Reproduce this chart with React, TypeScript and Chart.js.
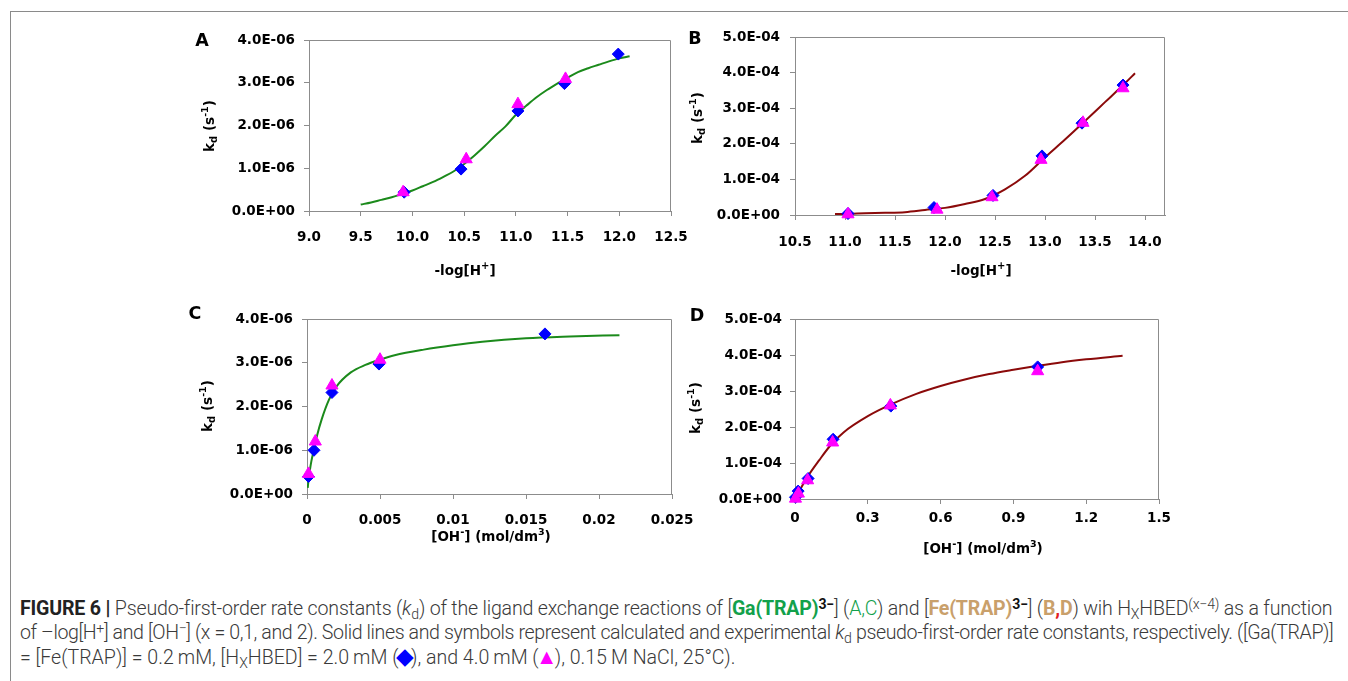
import React, { useEffect, useLayoutEffect, useRef } from 'react';
import { Chart, registerables } from 'chart.js';

Chart.register(...registerables);

// ================= DATA =================
// Panel A : [Ga(TRAP)]3-, kd vs -log[H+]
const aCurveX = [9.5, 9.6, 9.7, 9.8, 9.9, 10.0, 10.1, 10.2, 10.3, 10.4, 10.5, 10.6, 10.7, 10.8, 10.9, 11.0, 11.1, 11.2, 11.3, 11.4, 11.5, 11.6, 11.7, 11.8, 11.9, 12.0, 12.1];
const aCurveY = [0.15e-6, 0.2e-6, 0.26e-6, 0.32e-6, 0.4e-6, 0.48e-6, 0.58e-6, 0.68e-6, 0.8e-6, 0.93e-6, 1.1e-6, 1.3e-6, 1.52e-6, 1.76e-6, 1.98e-6, 2.25e-6, 2.46e-6, 2.66e-6, 2.83e-6, 2.98e-6, 3.12e-6, 3.25e-6, 3.34e-6, 3.42e-6, 3.5e-6, 3.57e-6, 3.62e-6];
const aDiamondX = [9.92, 10.47, 11.02, 11.47, 11.99];
const aDiamondY = [0.44e-6, 0.98e-6, 2.34e-6, 2.98e-6, 3.67e-6];
const aTriangleX = [9.91, 10.52, 11.02, 11.48];
const aTriangleY = [0.44e-6, 1.21e-6, 2.5e-6, 3.09e-6];
const aXTicks = [9.0, 9.5, 10.0, 10.5, 11.0, 11.5, 12.0, 12.5];
const aXLabels = ['9.0', '9.5', '10.0', '10.5', '11.0', '11.5', '12.0', '12.5'];
const aYTicks = [0, 1e-6, 2e-6, 3e-6, 4e-6];
const aYLabels = ['0.0E+00', '1.0E-06', '2.0E-06', '3.0E-06', '4.0E-06'];

// Panel B : [Fe(TRAP)]3-, kd vs -log[H+]
const bCurveX = [10.9, 11.0, 11.2, 11.4, 11.6, 11.8, 12.0, 12.2, 12.4, 12.6, 12.8, 13.0, 13.2, 13.4, 13.6, 13.8, 13.9];
const bCurveY = [0.03e-4, 0.03e-4, 0.05e-4, 0.06e-4, 0.08e-4, 0.14e-4, 0.2e-4, 0.31e-4, 0.45e-4, 0.72e-4, 1.1e-4, 1.62e-4, 2.12e-4, 2.64e-4, 3.17e-4, 3.7e-4, 3.98e-4];
const bDiamondX = [11.03, 11.89, 12.48, 12.97, 13.37, 13.78];
const bDiamondY = [0.04e-4, 0.21e-4, 0.55e-4, 1.66e-4, 2.58e-4, 3.65e-4];
const bTriangleX = [11.03, 11.92, 12.47, 12.96, 13.38, 13.78];
const bTriangleY = [0.02e-4, 0.15e-4, 0.5e-4, 1.55e-4, 2.59e-4, 3.56e-4];
const bXTicks = [10.5, 11.0, 11.5, 12.0, 12.5, 13.0, 13.5, 14.0];
const bXLabels = ['10.5', '11.0', '11.5', '12.0', '12.5', '13.0', '13.5', '14.0'];
const bYTicks = [0, 1e-4, 2e-4, 3e-4, 4e-4, 5e-4];
const bYLabels = ['0.0E+00', '1.0E-04', '2.0E-04', '3.0E-04', '4.0E-04', '5.0E-04'];

// Panel C : [Ga(TRAP)]3-, kd vs [OH-]
const cCurveX = [0.00005, 0.0001, 0.0002, 0.0003, 0.0005, 0.0007, 0.001, 0.0015, 0.002, 0.003, 0.004, 0.005, 0.006, 0.008, 0.01, 0.012, 0.015, 0.018, 0.0214];
const cCurveY = [0.14e-6, 0.3e-6, 0.55e-6, 0.75e-6, 1.05e-6, 1.35e-6, 1.7e-6, 2.15e-6, 2.45e-6, 2.78e-6, 2.95e-6, 3.07e-6, 3.17e-6, 3.3e-6, 3.4e-6, 3.48e-6, 3.56e-6, 3.6e-6, 3.63e-6];
const cDiamondX = [0.0001, 0.00048, 0.00171, 0.00493, 0.0163];
const cDiamondY = [0.4e-6, 1.0e-6, 2.32e-6, 2.97e-6, 3.66e-6];
const cTriangleX = [0.0001, 0.00057, 0.00171, 0.005];
const cTriangleY = [0.46e-6, 1.2e-6, 2.48e-6, 3.07e-6];
const cXTicks = [0, 0.005, 0.01, 0.015, 0.02, 0.025];
const cXLabels = ['0', '0.005', '0.01', '0.015', '0.02', '0.025'];
const cYTicks = [0, 1e-6, 2e-6, 3e-6, 4e-6];
const cYLabels = ['0.0E+00', '1.0E-06', '2.0E-06', '3.0E-06', '4.0E-06'];

// Panel D : [Fe(TRAP)]3-, kd vs [OH-]
const dCurveX = [0, 0.01, 0.02, 0.05, 0.1, 0.15, 0.2, 0.3, 0.4, 0.5, 0.6, 0.7, 0.8, 0.9, 1.0, 1.1, 1.2, 1.35];
const dCurveY = [0.02e-4, 0.13e-4, 0.25e-4, 0.6e-4, 1.08e-4, 1.52e-4, 1.85e-4, 2.3e-4, 2.64e-4, 2.92e-4, 3.14e-4, 3.32e-4, 3.47e-4, 3.59e-4, 3.7e-4, 3.8e-4, 3.88e-4, 3.98e-4];
const dDiamondX = [0.002, 0.013, 0.054, 0.157, 0.395, 1.0];
const dDiamondY = [0.05e-4, 0.22e-4, 0.57e-4, 1.66e-4, 2.58e-4, 3.67e-4];
const dTriangleX = [0.002, 0.014, 0.052, 0.155, 0.393, 1.0];
const dTriangleY = [0.01e-4, 0.15e-4, 0.52e-4, 1.57e-4, 2.6e-4, 3.55e-4];
const dXTicks = [0, 0.3, 0.6, 0.9, 1.2, 1.5];
const dXLabels = ['0', '0.3', '0.6', '0.9', '1.2', '1.5'];
const dYTicks = [0, 1e-4, 2e-4, 3e-4, 4e-4, 5e-4];
const dYLabels = ['0.0E+00', '1.0E-04', '2.0E-04', '3.0E-04', '4.0E-04', '5.0E-04'];

// ================= STYLE / LAYOUT =================
type Pt = { x: number; y: number };
type Part = { t: string; s?: number; dy?: number };
const zip = (xs: number[], ys: number[]): Pt[] => xs.map((x, i) => ({ x, y: ys[i] }));

const FONT = "'DejaVu Sans', 'Liberation Sans', Arial, sans-serif";
const AXIS_COLOR = '#8c8c8c';
const GREEN_LINE = '#1b8a1b';
const RED_LINE = '#8b0a0a';
const BLUE = '#0000ff';
const MAGENTA = '#ff00ff';
const YW = 135;
const XH = 80;
const PAD_T = 30;
const PAD_R = 48;

const Y_TITLE: Part[] = [
  { t: 'k' },
  { t: 'd', s: 10, dy: 3 },
  { t: ' (s' },
  { t: '-1', s: 9.5, dy: -6 },
  { t: ')' },
];
const X_TITLE_PH: Part[] = [{ t: '-log[H' }, { t: '+', s: 10, dy: -6 }, { t: ']' }];
const X_TITLE_OH: Part[] = [
  { t: '[OH' },
  { t: '-', s: 10, dy: -6 },
  { t: '] (mol/dm' },
  { t: '3', s: 9.5, dy: -6 },
  { t: ')' },
];

interface PanelCfg {
  id: string;
  area: { l: number; t: number; r: number; b: number };
  xMin: number; xMax: number; xTicks: number[]; xLabels: string[];
  yMax: number; yTicks: number[]; yLabels: string[];
  curve: Pt[]; diamonds: Pt[]; triangles: Pt[]; lineColor: string;
  xPad: number; yPad: number;
  letter: string; letterPos: [number, number];
  yTitlePos: [number, number];
  xTitle: Part[]; xTitlePos: [number, number];
}

const PANELS: PanelCfg[] = [
  {
    id: 'A', area: { l: 309, t: 40, r: 671, b: 211 },
    xMin: 9.0, xMax: 12.5, xTicks: aXTicks, xLabels: aXLabels,
    yMax: 4e-6, yTicks: aYTicks, yLabels: aYLabels,
    curve: zip(aCurveX, aCurveY), diamonds: zip(aDiamondX, aDiamondY), triangles: zip(aTriangleX, aTriangleY),
    lineColor: GREEN_LINE, xPad: 13, yPad: 9,
    letter: 'A', letterPos: [202, 40], yTitlePos: [209, 126], xTitle: X_TITLE_PH, xTitlePos: [465, 270],
  },
  {
    id: 'B', area: { l: 795, t: 37, r: 1165, b: 215 },
    xMin: 10.5, xMax: 14.2, xTicks: bXTicks, xLabels: bXLabels,
    yMax: 5e-4, yTicks: bYTicks, yLabels: bYLabels,
    curve: zip(bCurveX, bCurveY), diamonds: zip(bDiamondX, bDiamondY), triangles: zip(bTriangleX, bTriangleY),
    lineColor: RED_LINE, xPad: 14, yPad: 10,
    letter: 'B', letterPos: [695, 38], yTitlePos: [697, 118], xTitle: X_TITLE_PH, xTitlePos: [981, 270],
  },
  {
    id: 'C', area: { l: 307, t: 319, r: 672, b: 494 },
    xMin: 0, xMax: 0.025, xTicks: cXTicks, xLabels: cXLabels,
    yMax: 4e-6, yTicks: cYTicks, yLabels: cYLabels,
    curve: zip(cCurveX, cCurveY), diamonds: zip(cDiamondX, cDiamondY), triangles: zip(cTriangleX, cTriangleY),
    lineColor: GREEN_LINE, xPad: 13, yPad: 9,
    letter: 'C', letterPos: [195, 313], yTitlePos: [207, 406], xTitle: X_TITLE_OH, xTitlePos: [491, 536],
  },
  {
    id: 'D', area: { l: 795, t: 319, r: 1159, b: 499 },
    xMin: 0, xMax: 1.5, xTicks: dXTicks, xLabels: dXLabels,
    yMax: 5e-4, yTicks: dYTicks, yLabels: dYLabels,
    curve: zip(dCurveX, dCurveY), diamonds: zip(dDiamondX, dDiamondY), triangles: zip(dTriangleX, dTriangleY),
    lineColor: RED_LINE, xPad: 6, yPad: 8,
    letter: 'D', letterPos: [697, 315], yTitlePos: [695, 408], xTitle: X_TITLE_OH, xTitlePos: [983, 548],
  },
];

function drawRich(ctx: CanvasRenderingContext2D, parts: Part[], cx: number, cy: number, rot: number) {
  ctx.save();
  ctx.translate(cx, cy);
  if (rot) ctx.rotate(rot);
  ctx.textAlign = 'left';
  ctx.textBaseline = 'alphabetic';
  ctx.fillStyle = '#000';
  const sizes = parts.map((p) => p.s ?? 13.5);
  const widths = parts.map((p, i) => {
    ctx.font = `bold ${sizes[i]}px ${FONT}`;
    return ctx.measureText(p.t).width;
  });
  const total = widths.reduce((a, b) => a + b, 0);
  const base = 0.365 * sizes[0];
  let x = -total / 2;
  parts.forEach((p, i) => {
    ctx.font = `bold ${sizes[i]}px ${FONT}`;
    ctx.fillText(p.t, x, base + (p.dy ?? 0));
    x += widths[i];
  });
  ctx.restore();
}

function Panel({ cfg }: { cfg: PanelCfg }) {
  const ref = useRef<HTMLCanvasElement>(null);
  const left = cfg.area.l - YW;
  const top = cfg.area.t - PAD_T;
  const width = cfg.area.r - cfg.area.l + YW + PAD_R;
  const height = cfg.area.b - cfg.area.t + PAD_T + XH;

  useEffect(() => {
    if (!ref.current) return;
    const tickFont = { family: FONT, size: 13.5, weight: 'bold' as const };
    const deco = {
      id: 'deco' + cfg.id,
      beforeDatasetsDraw(chart: any) {
        const { ctx, chartArea: ca } = chart;
        ctx.save();
        ctx.strokeStyle = AXIS_COLOR;
        ctx.lineWidth = 1;
        const ty = Math.round(ca.top) + 0.5;
        const rx = Math.round(ca.right) - 0.5;
        ctx.beginPath();
        ctx.moveTo(ca.left, ty);
        ctx.lineTo(rx, ty);
        ctx.lineTo(rx, ca.bottom);
        ctx.stroke();
        ctx.restore();
      },
      afterDraw(chart: any) {
        const ctx = chart.ctx;
        drawRich(ctx, [{ t: cfg.letter, s: 17.5 }], cfg.letterPos[0] - left, cfg.letterPos[1] - top, 0);
        drawRich(ctx, Y_TITLE, cfg.yTitlePos[0] - left, cfg.yTitlePos[1] - top, -Math.PI / 2);
        drawRich(ctx, cfg.xTitle, cfg.xTitlePos[0] - left, cfg.xTitlePos[1] - top, 0);
      },
    };
    const chart = new Chart(ref.current, {
      type: 'scatter',
      data: {
        datasets: [
          {
            label: '4.0 mM',
            data: cfg.triangles,
            pointStyle: 'triangle',
            pointRadius: 7,
            pointBackgroundColor: MAGENTA,
            pointBorderColor: MAGENTA,
            backgroundColor: MAGENTA,
            borderColor: MAGENTA,
            pointBorderWidth: 1,
            showLine: false,
            clip: false,
          } as any,
          {
            label: '2.0 mM',
            data: cfg.diamonds,
            pointStyle: 'rectRot',
            pointRadius: 6,
            pointBackgroundColor: BLUE,
            pointBorderColor: BLUE,
            backgroundColor: BLUE,
            borderColor: BLUE,
            pointBorderWidth: 1,
            showLine: false,
            clip: false,
          } as any,
          {
            label: 'calculated',
            data: cfg.curve,
            showLine: true,
            pointRadius: 0,
            borderColor: cfg.lineColor,
            backgroundColor: cfg.lineColor,
            borderWidth: 2,
            cubicInterpolationMode: 'monotone',
            fill: false,
          } as any,
        ],
      },
      options: {
        responsive: false,
        maintainAspectRatio: false,
        animation: false,
        devicePixelRatio: 1,
        events: [],
        layout: { padding: { top: PAD_T, right: PAD_R, left: 0, bottom: 0 } },
        plugins: { legend: { display: false }, tooltip: { enabled: false }, title: { display: false } },
        scales: {
          x: {
            type: 'linear',
            min: cfg.xMin,
            max: cfg.xMax,
            afterBuildTicks: (s: any) => {
              s.ticks = cfg.xTicks.map((v) => ({ value: v }));
            },
            afterFit: (s: any) => {
              s.height = XH;
            },
            ticks: {
              autoSkip: false,
              maxRotation: 0,
              minRotation: 0,
              padding: cfg.xPad,
              color: '#000',
              font: tickFont,
              callback: (v: any, i: number) => cfg.xLabels[i],
            },
            grid: { display: true, drawOnChartArea: false, drawTicks: true, tickLength: 5, color: AXIS_COLOR, lineWidth: 1 },
            border: { display: true, color: AXIS_COLOR, width: 1 },
          },
          y: {
            type: 'linear',
            min: 0,
            max: cfg.yMax,
            afterBuildTicks: (s: any) => {
              s.ticks = cfg.yTicks.map((v) => ({ value: v }));
            },
            afterFit: (s: any) => {
              s.width = YW;
            },
            ticks: {
              autoSkip: false,
              padding: cfg.yPad,
              color: '#000',
              font: tickFont,
              callback: (v: any, i: number) => cfg.yLabels[i],
            },
            grid: { display: true, drawOnChartArea: false, drawTicks: true, tickLength: 5, color: AXIS_COLOR, lineWidth: 1 },
            border: { display: true, color: AXIS_COLOR, width: 1 },
          },
        },
      } as any,
      plugins: [deco],
    });
    return () => chart.destroy();
  }, [cfg]);

  return (
    <canvas
      ref={ref}
      width={width}
      height={height}
      style={{ position: 'absolute', left, top, width, height }}
    />
  );
}

const CAP_FONT = "Roboto, 'Liberation Sans', Arial, sans-serif";
const CAP_TARGETS = [1312, 1313, 715];
const CAP_TOPS = [599, 623, 648];
const GREEN_TXT = '#12a14b';
const TAN_TXT = '#c9a06b';
const RED_TXT = '#e3201b';

const Sup = ({ children, style }: any) => (
  <span style={{ position: 'relative', top: '-0.45em', fontSize: '0.72em', ...style }}>{children}</span>
);
const Sub = ({ children, style }: any) => (
  <span style={{ position: 'relative', top: '0.3em', fontSize: '0.72em', ...style }}>{children}</span>
);
const B = ({ children, color }: any) => <span style={{ fontWeight: 700, color }}>{children}</span>;

function Caption() {
  const r1 = useRef<HTMLDivElement>(null);
  const r2 = useRef<HTMLDivElement>(null);
  const r3 = useRef<HTMLDivElement>(null);
  useLayoutEffect(() => {
    const els = [r1.current!, r2.current!, r3.current!];
    const base = 16;
    els.forEach((e) => {
      e.style.fontSize = base + 'px';
      e.style.wordSpacing = '0px';
      e.style.letterSpacing = '0px';
    });
    const w3 = els[2].getBoundingClientRect().width;
    const fs = (base * CAP_TARGETS[2]) / w3;
    els.forEach((e) => (e.style.fontSize = fs + 'px'));
    [0, 1].forEach((i) => {
      const e = els[i];
      const w = e.getBoundingClientRect().width;
      const txt = e.textContent || '';
      if (w > CAP_TARGETS[i]) {
        e.style.letterSpacing = (CAP_TARGETS[i] - w) / txt.length + 'px';
      } else {
        const n = txt.split(' ').length - 1;
        if (n > 0) e.style.wordSpacing = (CAP_TARGETS[i] - w) / n + 'px';
      }
    });
  }, []);
  const lineStyle = (i: number): React.CSSProperties => ({
    position: 'absolute',
    left: 20,
    top: CAP_TOPS[i],
    whiteSpace: 'nowrap',
    lineHeight: '20px',
    fontFamily: CAP_FONT,
    fontWeight: 300,
    color: '#3a3a3a',
    fontSize: 16,
  });
  const sym: React.CSSProperties = { lineHeight: 0, display: 'inline-block', margin: '0 -0.12em' };
  return (
    <>
      <div ref={r1} style={lineStyle(0)}>
        <B color="#222">FIGURE 6 |</B> Pseudo-first-order rate constants (<i>k</i>
        <Sub>d</Sub>) of the ligand exchange reactions of [<B color={GREEN_TXT}>Ga(TRAP)</B>
        <Sup style={{ fontWeight: 700, color: '#111' }}>3−</Sup>] (<span style={{ color: GREEN_TXT }}>A,C</span>) and [
        <B color={TAN_TXT}>Fe(TRAP)</B>
        <Sup style={{ fontWeight: 700, color: '#111' }}>3−</Sup>] (<B color={TAN_TXT}>B</B>
        <B color={RED_TXT}>,</B>
        <B color={TAN_TXT}>D</B>) wih H<Sub>X</Sub>HBED<Sup>(x−4)</Sup> as a function
      </div>
      <div ref={r2} style={lineStyle(1)}>
        of –log[H<Sup>+</Sup>] and [OH<Sup>−</Sup>] (x = 0,1, and 2). Solid lines and symbols represent calculated and
        experimental <i>k</i>
        <Sub>d</Sub> pseudo-first-order rate constants, respectively. ([Ga(TRAP)]
      </div>
      <div ref={r3} style={lineStyle(2)}>
        = [Fe(TRAP)] = 0.2{'\u2009'}mM, [H<Sub>X</Sub>HBED] = 2.0{'\u2009'}mM (
        <span style={{ ...sym, color: BLUE, fontSize: '1.15em' }}>◆</span>), and 4.0{'\u2009'}mM (
        <span style={{ ...sym, color: MAGENTA, fontSize: '1.1em' }}>▲</span>), 0.15{'\u2009'}M NaCl, 25°C).
      </div>
    </>
  );
}

export default function App() {
  return (
    <div
      style={{
        position: 'absolute',
        left: 0,
        top: 0,
        width: 1348,
        height: 681,
        overflow: 'hidden',
        background: '#fff',
      }}
    >
      <div
        style={{
          position: 'absolute',
          left: 10,
          top: 11,
          right: 0,
          bottom: 0,
          borderTop: '1px solid #8a8a8a',
          borderLeft: '1px solid #8a8a8a',
        }}
      />
      {PANELS.map((p) => (
        <Panel key={p.id} cfg={p} />
      ))}
      <Caption />
    </div>
  );
}
